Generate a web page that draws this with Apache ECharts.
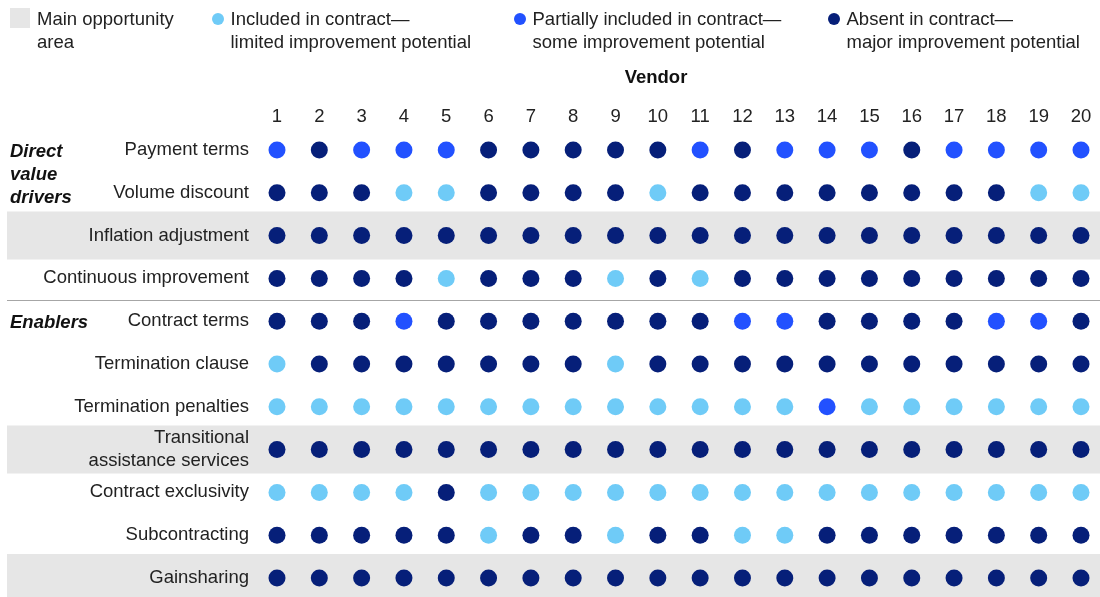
<!DOCTYPE html>
<html>
<head>
<meta charset="utf-8">
<script src="https://cdn.jsdelivr.net/npm/echarts@6/dist/echarts.min.js"></script>
<style>
html,body{margin:0;padding:0;background:#fff;}
#chart{width:1100px;height:597px;}
</style>
</head>
<body>
<div id="chart"></div>
<script>
// ---- Data ----
const vendors = ['1','2','3','4','5','6','7','8','9','10','11','12','13','14','15','16','17','18','19','20'];
const factors = ['Payment terms','Volume discount','Inflation adjustment','Continuous improvement','Contract terms','Termination clause','Termination penalties','Transitional\nassistance services','Contract exclusivity','Subcontracting','Gainsharing'];
// I = included (limited potential), P = partially included (some potential), A = absent (major potential)
const paymentTerms         = ['P','A','P','P','P','A','A','A','A','A','P','A','P','P','P','A','P','P','P','P'];
const volumeDiscount       = ['A','A','A','I','I','A','A','A','A','I','A','A','A','A','A','A','A','A','I','I'];
const inflationAdjustment  = ['A','A','A','A','A','A','A','A','A','A','A','A','A','A','A','A','A','A','A','A'];
const continuousImprovement= ['A','A','A','A','I','A','A','A','I','A','I','A','A','A','A','A','A','A','A','A'];
const contractTerms        = ['A','A','A','P','A','A','A','A','A','A','A','P','P','A','A','A','A','P','P','A'];
const terminationClause    = ['I','A','A','A','A','A','A','A','I','A','A','A','A','A','A','A','A','A','A','A'];
const terminationPenalties = ['I','I','I','I','I','I','I','I','I','I','I','I','I','P','I','I','I','I','I','I'];
const transitionalServices = ['A','A','A','A','A','A','A','A','A','A','A','A','A','A','A','A','A','A','A','A'];
const contractExclusivity  = ['I','I','I','I','A','I','I','I','I','I','I','I','I','I','I','I','I','I','I','I'];
const subcontracting       = ['A','A','A','A','A','I','A','A','I','A','A','I','I','A','A','A','A','A','A','A'];
const gainsharing          = ['A','A','A','A','A','A','A','A','A','A','A','A','A','A','A','A','A','A','A','A'];
const rowsStatus = [paymentTerms, volumeDiscount, inflationAdjustment, continuousImprovement, contractTerms, terminationClause, terminationPenalties, transitionalServices, contractExclusivity, subcontracting, gainsharing];
const mainOpportunityRows = ['Inflation adjustment','Transitional\nassistance services','Gainsharing'];
const groupLabels = ['Direct\nvalue\ndrivers','Enablers'];
const groupStartRows = ['Payment terms','Contract terms'];
const statusCodes = ['I','P','A'];
const statusNames = ['Included in contract—\nlimited improvement potential','Partially included in contract—\nsome improvement potential','Absent in contract—\nmajor improvement potential'];
const legendAreaName = 'Main opportunity\narea';

// ---- Styles ----
const FONT = '"Liberation Sans", Arial, sans-serif';
const FS = 18.5;
const TXT = '#222222';
const statusColors = ['#6FCBF7','#2251FF','#061F79'];
const bandColor = '#E6E6E6';

function pointsFor(code){
  const out = [];
  rowsStatus.forEach((row, r) => row.forEach((s, v) => { if (s === code) out.push([vendors[v], factors[r]]); }));
  return out;
}

const chart = echarts.init(document.getElementById('chart'), null, {renderer:'canvas'});

const scatterSeries = statusCodes.map((c, i) => ({
  type:'scatter', name: statusNames[i], data: pointsFor(c),
  symbol:'circle', symbolSize:17, z:5,
  itemStyle:{color: statusColors[i], opacity:1}, silent:true
}));

const bandSeries = {
  type:'custom', z:-5, zlevel:0, clip:false, silent:true,
  data: mainOpportunityRows.map(n => [vendors[0], n]),
  renderItem: (params, api) => {
    const p = api.coord([api.value(0), api.value(1)]);
    const w = api.getWidth();
    return {type:'rect', z2:-10, shape:{x:7, y:p[1]-24, width:w-7, height:48}, style:{fill:bandColor}};
  }
};

const separatorSeries = {
  type:'custom', z:2, clip:false, silent:true,
  data: [[vendors[0], groupStartRows[1]]],
  renderItem: (params, api) => {
    const idx = factors.indexOf(groupStartRows[1]);
    const a = api.coord([0, idx - 1]);
    const b = api.coord([0, idx]);
    const y = Math.round((a[1] + b[1]) / 2) + 0.5;
    return {type:'line', shape:{x1:7, y1:y, x2:api.getWidth(), y2:y}, style:{stroke:'#A6A6A6', lineWidth:1.2}};
  }
};

const groupSeries = {
  type:'custom', z:3, clip:false, silent:true,
  data: groupStartRows.map((n, i) => [vendors[0], n, i]),
  renderItem: (params, api) => {
    const p = api.coord([api.value(0), api.value(1)]);
    const i = api.value(2);
    return {type:'text', x:10, y:p[1]-9.5, style:{text:groupLabels[i], fill:'#111', font:'italic bold '+FS+'px '+FONT, lineHeight:23, verticalAlign:'top', align:'left'}};
  }
};

function legendItem(x, color, text){
  return [
    {type:'circle', shape:{cx:x, cy:19, r:6}, style:{fill:color}},
    {type:'text', x:x+12.5, y:8.5, style:{text:text, fill:TXT, font:FS+'px '+FONT, lineHeight:23, verticalAlign:'top'}}
  ];
}

chart.setOption({
  animation:false,
  backgroundColor:'#ffffff',
  textStyle:{fontFamily:FONT},
  grid:{left:277, right:19, top:150, bottom:19},
  xAxis:{
    type:'category', data:vendors, position:'top', boundaryGap:false, z:10,
    axisLine:{show:false}, axisTick:{show:false}, splitLine:{show:false},
    axisLabel:{color:TXT, fontSize:FS, fontFamily:FONT, margin:24, interval:0}
  },
  yAxis:{
    type:'category', data:factors, inverse:true, boundaryGap:false, z:10,
    axisLine:{show:false}, axisTick:{show:false}, splitLine:{show:false},
    axisLabel:{color:TXT, fontSize:FS, fontFamily:FONT, margin:28, lineHeight:23, interval:0, align:'right', padding:[8,0,0,0]}
  },
  series:[bandSeries, separatorSeries, groupSeries].concat(scatterSeries),
  graphic:[
    {type:'rect', shape:{x:10, y:8, width:20, height:20}, style:{fill:bandColor}},
    {type:'text', x:37, y:8.5, style:{text:legendAreaName, fill:TXT, font:FS+'px '+FONT, lineHeight:23, verticalAlign:'top'}},
    ...legendItem(218, statusColors[0], statusNames[0]),
    ...legendItem(520, statusColors[1], statusNames[1]),
    ...legendItem(834, statusColors[2], statusNames[2]),
    {type:'text', x:656, y:78, style:{text:'Vendor', fill:'#111', font:'bold '+FS+'px '+FONT, align:'center', verticalAlign:'middle'}}
  ]
});
</script>
</body>
</html>
